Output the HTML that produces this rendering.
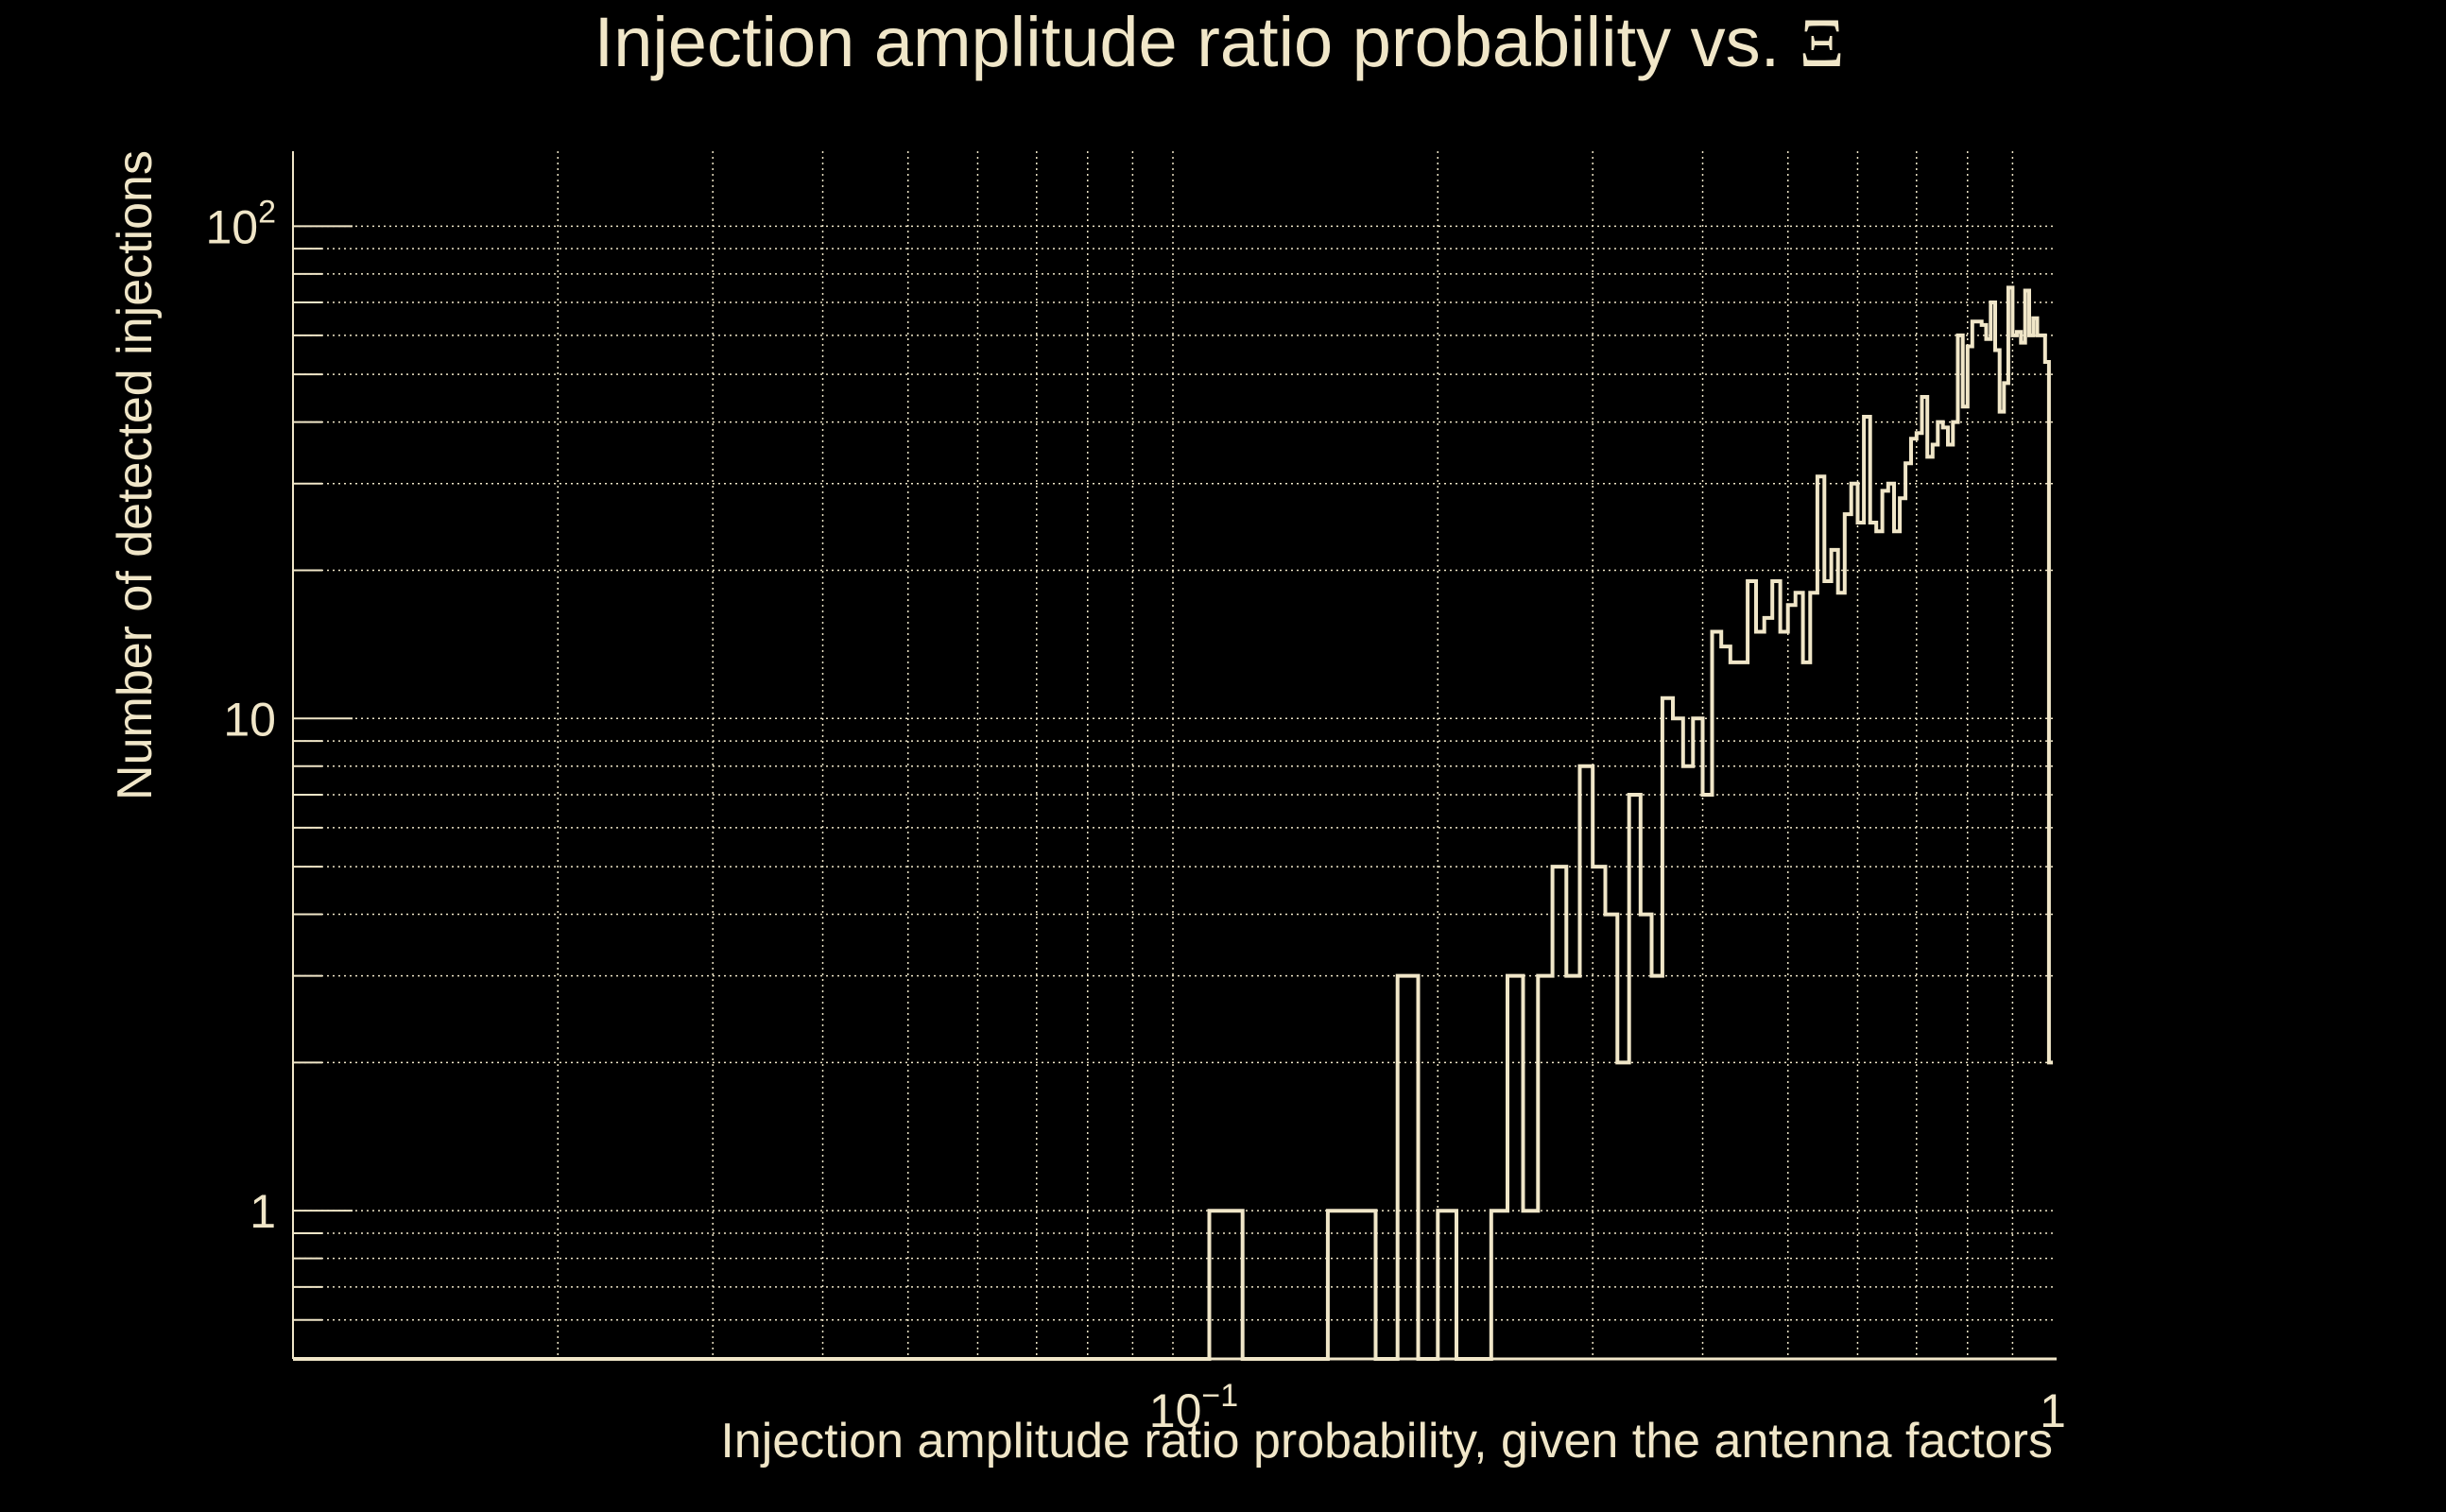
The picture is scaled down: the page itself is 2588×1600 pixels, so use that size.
<!DOCTYPE html>
<html><head><meta charset="utf-8">
<style>
html,body{margin:0;padding:0;background:#000;}
svg{display:block;}
text{font-family:"Liberation Sans",sans-serif;fill:#f0e6c8;}
</style></head>
<body>
<svg id="chart" width="2588" height="1600" viewBox="0 0 2588 1600" xmlns="http://www.w3.org/2000/svg">
<rect width="2588" height="1600" fill="#000"/>
<text x="1290" y="70" font-size="74" text-anchor="middle">Injection amplitude ratio probability vs.  <tspan font-family="Liberation Serif">Ξ</tspan></text>
<text transform="translate(160,503) rotate(-90)" font-size="52" text-anchor="middle">Number of detected injections</text>
<text x="2172" y="1542" font-size="52" text-anchor="end">Injection amplitude ratio probability, given the antenna factors</text>
<g id="grid"></g>
<g id="axes"></g>
<g id="marks"></g>
</svg>
<script>
// bin lower edges (width 0.01) and counts
const binStarts = [0.10,0.11,0.12,0.13,0.14,0.15,0.16,0.17,0.18,0.19,0.20,0.21,0.22,0.23,0.24,0.25,0.26,0.27,0.28,0.29,0.30,0.31,0.32,0.33,0.34,0.35,0.36,0.37,0.38,0.39,0.40,0.41,0.42,0.43,0.44,0.45,0.46,0.47,0.48,0.49,0.50,0.51,0.52,0.53,0.54,0.55,0.56,0.57,0.58,0.59,0.60,0.61,0.62,0.63,0.64,0.65,0.66,0.67,0.68,0.69,0.70,0.71,0.72,0.73,0.74,0.75,0.76,0.77,0.78,0.79,0.80,0.81,0.82,0.83,0.84,0.85,0.86,0.87,0.88,0.89,0.90,0.91,0.92,0.93,0.94,0.95,0.96,0.97,0.98,0.99];
const counts = [0,1,0,0,0,1,1,0,3,0,1,0,0,1,3,1,3,5,3,8,5,4,2,7,4,3,11,10,8,10,7,15,14,13,13,19,15,16,19,15,17,18,13,18,31,19,22,18,26,30,25,41,25,24,29,30,24,28,33,37,38,45,34,36,40,39,36,40,60,43,57,64,64,63,59,70,56,42,48,75,60,61,58,74,60,65,60,60,53,2];
const binWidth = 0.01;
const yMajorTicks = [1,10,100];
const yTickBase = ["1","10","10"];
const yTickExp = ["","","2"];
const xMajorTicks = [0.1,1];
const xTickBase = ["10","1"];
const xTickExp = ["−1",""];

const NS="http://www.w3.org/2000/svg";
const L=310,R=2172,T=160,B=1438;
const xmin=0.01,xmax=1,ymin=0.5,ymax=142;
function X(v){return L+(R-L)*(Math.log10(v)-Math.log10(xmin))/(Math.log10(xmax)-Math.log10(xmin));}
function Y(v){if(v<=ymin)return B;return B-(B-T)*(Math.log10(v)-Math.log10(ymin))/(Math.log10(ymax)-Math.log10(ymin));}
function mk(tag,attrs,parent){const e=document.createElementNS(NS,tag);for(const k in attrs)e.setAttribute(k,attrs[k]);parent.appendChild(e);return e;}
function label(parent,x,y,anchor,base,exp){const t=mk('text',{x:x,y:y,'font-size':50,'text-anchor':anchor},parent);
 const a=mk('tspan',{},t);a.textContent=base;
 if(exp){const b=mk('tspan',{'font-size':34,dy:-22},t);b.textContent=exp;}
 return t;}
const grid=document.getElementById('grid'),axes=document.getElementById('axes'),marks=document.getElementById('marks');
const C="#f0e6c8";
for(let d=-2;d<0;d++){for(let m=1;m<10;m++){const v=m*Math.pow(10,d);if(v<=xmin)continue;const x=X(v);
 const g=mk('line',{x1:x,x2:x,y1:T,y2:B,stroke:C,'stroke-width':1.5,'stroke-dasharray':'2 4'},grid);
 
 }}
for(let d=-1;d<3;d++){for(let m=1;m<10;m++){const v=m*Math.pow(10,d);if(v<=ymin||v>ymax)continue;const y=Y(v);
 const g=mk('line',{x1:L,x2:R+4,y1:y,y2:y,stroke:C,'stroke-width':1.5,'stroke-dasharray':'2 4'},grid);
 
 
 const t=mk('line',{x1:L,x2:L+(m===1?63:31),y1:y,y2:y,stroke:C,'stroke-width':2},grid);
 
 }}
const ax1=mk('line',{x1:L,x2:L,y1:T,y2:B,stroke:C,'stroke-width':2},axes);


const ax2=mk('line',{x1:L,x2:R+4,y1:B,y2:B,stroke:C,'stroke-width':3},axes);


yMajorTicks.forEach((v,i)=>{const t=label(axes,L-18-(yTickExp[i]?0:0),Y(v)+18,'end',yTickBase[i],yTickExp[i]);
 
 });
xMajorTicks.forEach((v,i)=>{const t=label(axes,X(v)+(i===0?22:0),1510,'middle',xTickBase[i],xTickExp[i]);
 
 });
let d='M'+L+','+B+' L'+X(binStarts[0])+','+B;
binStarts.forEach((s,i)=>{const x0=X(s),x1=X(s+binWidth),y=Y(counts[i]);d+=' L'+x0.toFixed(1)+','+y.toFixed(1)+' L'+x1.toFixed(1)+','+y.toFixed(1);});
const p=mk('path',{d:d,fill:'none',stroke:C,'stroke-width':4,'stroke-linejoin':'miter'},marks);


</script>
</body></html>
